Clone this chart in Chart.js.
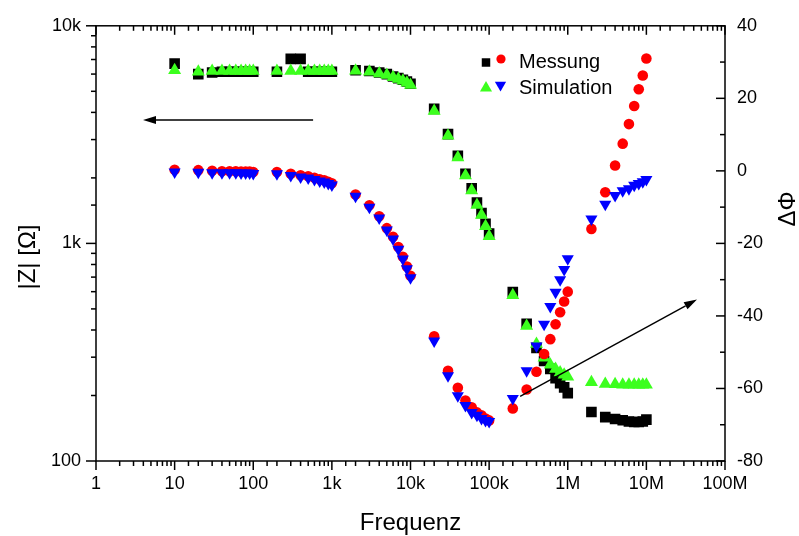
<!DOCTYPE html>
<html><head><meta charset="utf-8">
<script src="https://cdn.jsdelivr.net/npm/chart.js@4.4.1/dist/chart.umd.min.js"></script>
<style>html,body{margin:0;padding:0;background:#fff;}canvas{display:block;}</style>
</head><body>
<canvas id="c" width="799" height="536"></canvas>
<script>
// ---- data ----
const freq = [10,
  20,30,40,50,60,70,80,90,100,
  200,300,400,500,600,700,800,900,1000,
  2000,3000,4000,5000,6000,7000,8000,9000,10000,
  20000,30000,40000,50000,60000,70000,80000,90000,100000,
  200000,300000,400000,500000,600000,700000,800000,900000,1000000,
  2000000,3000000,4000000,5000000,6000000,7000000,8000000,9000000,10000000];

const zMessung = [6700,
  6000,6100,6150,6150,6150,6150,6150,6150,6150,
  6150,7050,7050,6150,6150,6150,6150,6150,6150,
  6250,6200,6100,6000,5850,5750,5650,5550,5420,
  4150,3180,2530,2090,1790,1540,1380,1230,1110,
  597,427,331,288,265,240,228,218,205,
  168,159,156,154,152,151,151,152,155];

const zSimulation = [6250,
  6150,6200,6200,6200,6200,6200,6200,6200,6200,
  6200,6200,6200,6200,6200,6200,6200,6200,6200,
  6220,6150,6040,5940,5800,5690,5590,5480,5350,
  4060,3120,2480,2050,1750,1500,1350,1200,1080,
  577,417,345,298,277,265,255,249,244,
  230,226,225,224,224,224,224,224,224];

const phiMessung = [0.3,
  0.2,0,-0.1,-0.1,-0.1,-0.2,-0.2,-0.2,-0.3,
  -0.3,-0.8,-1.2,-1.5,-1.9,-2.3,-2.6,-3.0,-3.4,
  -6.5,-9.5,-12.5,-15.8,-18.2,-21,-23.7,-26.4,-28.9,
  -45.6,-55.1,-59.8,-63.3,-65.2,-66.6,-67.4,-68.3,-68.8,
  -65.5,-60.3,-55.4,-50.5,-46.4,-42.3,-39,-36,-33.3,
  -16,-5.9,1.5,7.5,12.9,17.9,22.5,26.3,31];

const phiSimulation = [-0.3,
  -0.4,-0.5,-0.5,-0.5,-0.5,-0.6,-0.6,-0.6,-0.7,
  -0.8,-1.3,-1.7,-2.0,-2.4,-2.8,-3.1,-3.5,-3.9,
  -7,-10,-13,-16.3,-18.8,-21.6,-24.3,-27,-29.5,
  -46.9,-56.5,-62,-64.7,-66.6,-67.4,-68.3,-68.8,-69.1,
  -62.8,-55.1,-48.3,-42.3,-37.4,-33.5,-30,-27.2,-24.2,
  -13.3,-9.2,-6.8,-5.5,-4.9,-4.0,-3.5,-3.0,-2.4];

const xTickLabels = ['1','10','100','1k','10k','100k','1M','10M','100M'];
const yTickLabels = ['100','1k','10k'];          // decades 10^2..10^4
const legendLabels = ['Messung','Simulation'];
const axisTitles = {x:'Frequenz', y:'|Z| [\u03A9]', y2:'\u0394\u03A6'};
// arrow annotations in data units: [x1, y1, x2(tip), y2(tip)]
const arrowZ   = [577, 3690, 3.96, 3690];       // on |Z| axis
const arrowPhi = [248000, -62.2, 44000000, -35.5]; // on phase axis

// ---- styles ----
const FONT = 'Liberation Sans, Arial, sans-serif';
const C_BLACK = '#000000', C_GREEN = '#3cff1e', C_RED = '#ff0000', C_BLUE = '#0000ff';

const pts = arr => freq.map((f,i)=>({x:f, y:arr[i]}));
const isDecade = v => { const e = Math.log10(v); return Math.abs(e-Math.round(e)) < 1e-6; };

function shape(ctx, type, x, y, r, color){
  ctx.fillStyle = color;
  ctx.beginPath();
  if (type === 'rect') { const s = r*Math.SQRT1_2; ctx.rect(x-s, y-s, 2*s, 2*s); }
  else if (type === 'circle') { ctx.arc(x, y, r, 0, Math.PI*2); }
  else if (type === 'up') { const w = r*Math.sqrt(3)/2; ctx.moveTo(x, y-r); ctx.lineTo(x+w, y+r/2); ctx.lineTo(x-w, y+r/2); ctx.closePath(); }
  else if (type === 'down') { const w = r*Math.sqrt(3)/2; ctx.moveTo(x, y+r); ctx.lineTo(x+w, y-r/2); ctx.lineTo(x-w, y-r/2); ctx.closePath(); }
  ctx.fill();
}

function arrow(ctx, x1, y1, x2, y2){
  const ang = Math.atan2(y2-y1, x2-x1), L = 13, H = 4;
  const bx = x2 - Math.cos(ang)*L, by = y2 - Math.sin(ang)*L;
  ctx.beginPath(); ctx.moveTo(x1,y1); ctx.lineTo(bx,by); ctx.stroke();
  ctx.beginPath();
  ctx.moveTo(x2,y2);
  ctx.lineTo(bx + Math.sin(ang)*H, by - Math.cos(ang)*H);
  ctx.lineTo(bx - Math.sin(ang)*H, by + Math.cos(ang)*H);
  ctx.closePath(); ctx.fill();
}

const decor = {
  id: 'decor',
  afterDraw(chart){
    const {ctx, chartArea:{left,right,top,bottom}, scales} = chart;
    ctx.save();
    ctx.strokeStyle = '#000'; ctx.fillStyle = '#000'; ctx.lineWidth = 1.5;
    ctx.strokeRect(left, top, right-left, bottom-top);
    const line = (a,b,c,d)=>{ctx.beginPath();ctx.moveTo(a,b);ctx.lineTo(c,d);ctx.stroke();};
    scales.x.ticks.forEach(t=>{
      const p = scales.x.getPixelForValue(t.value), L = isDecade(t.value)?9:5;
      line(p,bottom,p,bottom+L); line(p,top,p,top+L);
    });
    scales.y.ticks.forEach(t=>{
      const p = scales.y.getPixelForValue(t.value), L = isDecade(t.value)?10:5;
      line(left-L,p,left,p);
    });
    scales.y2.ticks.forEach(t=>{
      const p = scales.y2.getPixelForValue(t.value), L = (t.value%20===0)?9:5;
      line(right-L,p,right,p);
    });
    // arrows
    ctx.lineWidth = 1.4;
    arrow(ctx, scales.x.getPixelForValue(arrowZ[0]), scales.y.getPixelForValue(arrowZ[1]),
               scales.x.getPixelForValue(arrowZ[2]), scales.y.getPixelForValue(arrowZ[3]));
    arrow(ctx, scales.x.getPixelForValue(arrowPhi[0]), scales.y2.getPixelForValue(arrowPhi[1]),
               scales.x.getPixelForValue(arrowPhi[2]), scales.y2.getPixelForValue(arrowPhi[3]));
    // titles
    ctx.fillStyle = '#000';
    ctx.font = '24px ' + FONT;
    ctx.textAlign = 'center'; ctx.textBaseline = 'alphabetic';
    ctx.fillText(axisTitles.x, (left+right)/2, 530);
    ctx.save(); ctx.translate(35, 257); ctx.rotate(-Math.PI/2); ctx.fillText(axisTitles.y, 0, 0); ctx.restore();
    ctx.save(); ctx.translate(795, 209); ctx.rotate(-Math.PI/2); ctx.fillText(axisTitles.y2, 0, 0); ctx.restore();
    // legend
    shape(ctx,'rect',486,62.5,6,C_BLACK);
    shape(ctx,'circle',501,59,4.6,C_RED);
    shape(ctx,'up',486,88,7,C_GREEN);
    shape(ctx,'down',500.5,85,6.5,C_BLUE);
    ctx.fillStyle = '#000'; ctx.font = '20px ' + FONT; ctx.textAlign = 'left';
    ctx.fillText(legendLabels[0], 519, 68);
    ctx.fillText(legendLabels[1], 519, 94);
    ctx.restore();
  }
};

const tickFont = {family: FONT, size: 18};
new Chart(document.getElementById('c'), {
  type: 'scatter',
  data: { datasets: [
    {label:'|Z| Messung', data: pts(zMessung), yAxisID:'y', order:4, pointStyle:'rect', pointRadius:7.5, backgroundColor:C_BLACK, borderWidth:0},
    {label:'|Z| Simulation', data: pts(zSimulation), yAxisID:'y', order:3, pointStyle:'triangle', pointRadius:7.5, backgroundColor:C_GREEN, borderWidth:0},
    {label:'\u0394\u03A6 Messung', data: pts(phiMessung), yAxisID:'y2', order:2, pointStyle:'circle', pointRadius:5.3, backgroundColor:C_RED, borderWidth:0},
    {label:'\u0394\u03A6 Simulation', data: pts(phiSimulation), yAxisID:'y2', order:1, pointStyle:'triangle', rotation:180, pointRadius:7, backgroundColor:C_BLUE, borderWidth:0}
  ]},
  options: {
    responsive:false, animation:false, devicePixelRatio:1,
    layout:{padding:{top:22,left:0,right:0,bottom:0}},
    plugins:{legend:{display:false}, tooltip:{enabled:false}},
    scales:{
      x:{type:'logarithmic', position:'bottom', min:1, max:1e8,
         grid:{display:false, drawTicks:false}, border:{display:false},
         afterFit: s => { s.height = 75; },
         ticks:{autoSkip:false, maxRotation:0, minRotation:0, padding:12, color:'#000', font:tickFont,
           callback: v => isDecade(v) ? xTickLabels[Math.round(Math.log10(v))] : ''}},
      y:{type:'logarithmic', position:'left', min:100, max:10000,
         grid:{display:false, drawTicks:false}, border:{display:false},
         afterFit: s => { s.width = 96; },
         ticks:{autoSkip:false, padding:15, color:'#000', font:tickFont,
           callback: v => isDecade(v) ? yTickLabels[Math.round(Math.log10(v))-2] : ''}},
      y2:{type:'linear', position:'right', min:-80, max:40,
         grid:{display:false, drawTicks:false}, border:{display:false},
         afterFit: s => { s.width = 74; },
         ticks:{stepSize:10, autoSkip:false, padding:12, color:'#000', font:tickFont,
           callback: v => (v % 20 === 0) ? String(v) : ''}}
    }
  },
  plugins:[decor]
});
</script>
</body></html>
